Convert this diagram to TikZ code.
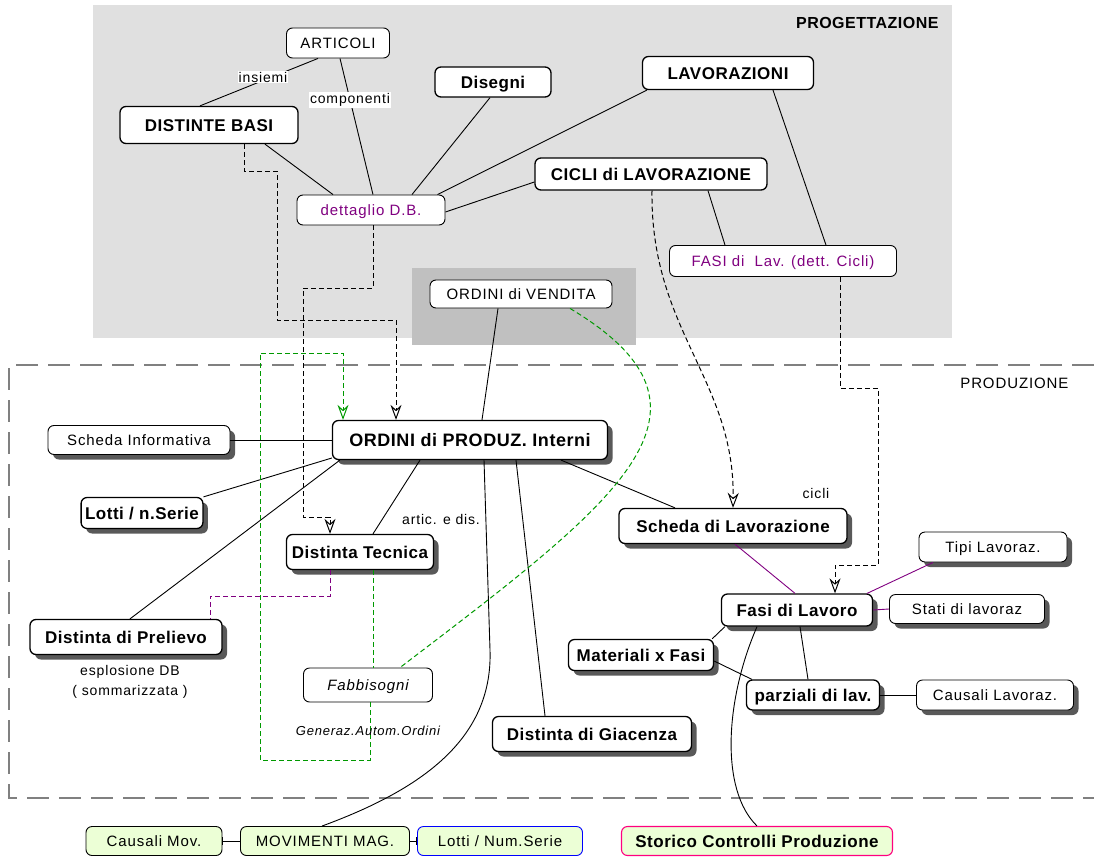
\documentclass[tikz,border=0pt]{standalone}
\usepackage{fontspec}
\setmainfont{Liberation Sans}
\newfontfamily\regfont[LetterSpace=6]{Liberation Sans}
\newfontfamily\boxfont[LetterSpace=3]{Liberation Sans}
\usepackage{tikz}
\usetikzlibrary{arrows.meta, shadows, calc, positioning}
\definecolor{progfill}{RGB}{224, 224, 224}
\definecolor{vendfill}{RGB}{192, 192, 192}
\definecolor{dbpurple}{RGB}{128, 0, 128}
\definecolor{linkgreen}{RGB}{0, 153, 0}
\definecolor{movfill}{RGB}{236, 255, 214}
\definecolor{lotblue}{RGB}{0, 0, 255}
\definecolor{storpink}{RGB}{255, 0, 128}
\definecolor{framegray}{RGB}{128, 128, 128}

\tikzset{
    box/.style={draw, rounded corners=6pt, fill=white, inner xsep=4pt, inner ysep=0pt, text depth=0pt},
    lightbox/.style={box, font=\regfont\fontsize{15}{17}\selectfont, text height=10.7pt, minimum height=30pt, line width=0.9pt},
    heavybox/.style={box, font=\boxfont\bfseries\fontsize{17}{19}\selectfont, text height=12.2pt, minimum height=34pt, line width=1.3pt},
    lifted/.style={drop shadow={shadow xshift=5pt, shadow yshift=-5pt, fill=black, opacity=0.65}},
    stockbox/.style={lightbox, fill=movfill},
    link/.style={draw, line width=0.9pt},
    dlink/.style={link, line width=1pt, dash pattern=on 5pt off 3pt},
    tip/.style={-{Stealth[open, length=15pt, width=11pt, inset=5pt, line width=1pt]}},
    edgetag/.style={font=\regfont\fontsize{14}{16}\selectfont, inner sep=1pt}
}

\begin{document}
\begin{tikzpicture}[x=1pt, y=-1pt]
    \useasboundingbox (0,0) rectangle (1094,856);
    % areas
    \fill[progfill] (93,5) rectangle (952,338);
    \fill[vendfill] (412,268) rectangle (636,345);
    \draw[framegray, line width=1.2pt, dash pattern=on 22pt off 10pt] (1094,365) -- (9,365) -- (9,798) -- (1094,798);
    \node (progtitle) [font=\boxfont\bfseries\fontsize{16}{18}\selectfont, anchor=east] at (942,23) {PROGETTAZIONE};
    \node (prodtitle) [font=\regfont\fontsize{15}{17}\selectfont, anchor=east] at (1072,383) {PRODUZIONE};

    % progettazione
    \node (arti) [lightbox, minimum width=103pt] at (338,43) {ARTICOLI};
    \node (dbasi) [heavybox, minimum width=178pt, minimum height=37pt] at (209,125) {DISTINTE BASI};
    \node (dis) [heavybox, minimum width=116pt, minimum height=30pt] at (493,82) {Disegni};
    \node (lav) [heavybox, minimum width=171pt, minimum height=33pt] at (728,73) {LAVORAZIONI};
    \node (cicli) [heavybox, minimum width=232pt, minimum height=32pt] at (651,174) {CICLI di LAVORAZIONE};
    \node (ddb) [lightbox, text=dbpurple, minimum width=148pt] at (371,210) {dettaglio D.B.};
    \node (fasil) [lightbox, text=dbpurple, minimum width=227pt, minimum height=31pt] at (783,261) {FASI di\ \ Lav. (dett. Cicli)};
    \node (ov) [lightbox, minimum width=182pt, minimum height=28pt] at (521,294) {ORDINI di VENDITA};

    % produzione
    \node (opi) [heavybox, lifted, font=\boxfont\bfseries\fontsize{18}{20}\selectfont, text height=12.9pt, minimum width=275pt, minimum height=39pt] at (470,440) {ORDINI di PRODUZ. Interni};
    \node (si) [lightbox, lifted, minimum width=182pt, minimum height=29pt] at (139,440) {Scheda Informativa};
    \node (lns) [heavybox, lifted, minimum width=120pt, minimum height=31pt] at (142,513) {Lotti / n.Serie};
    \node (dt) [heavybox, lifted, minimum width=147pt, minimum height=35pt] at (360,552) {Distinta Tecnica};
    \node (dp) [heavybox, lifted, minimum width=192pt, minimum height=35pt] at (126,637) {Distinta di Prelievo};
    \node (fab) [lightbox, font=\regfont\itshape\fontsize{15}{17}\selectfont, minimum width=129pt, minimum height=34pt] at (368,685) {Fabbisogni};
    \node (dg) [heavybox, lifted, minimum width=199pt, minimum height=35pt] at (592,734) {Distinta di Giacenza};
    \node (sl) [heavybox, lifted, minimum width=228pt, minimum height=35pt] at (733,526) {Scheda di Lavorazione};
    \node (fl) [heavybox, lifted, minimum width=151pt, minimum height=32pt] at (797,610) {Fasi di Lavoro};
    \node (tl) [lightbox, lifted, minimum width=148pt] at (993,547) {Tipi Lavoraz.};
    \node (st) [lightbox, lifted, minimum width=155pt, minimum height=29pt] at (967,609) {Stati di lavoraz};
    \node (mf) [heavybox, lifted, minimum width=145pt, minimum height=31pt] at (641,655) {Materiali x Fasi};
    \node (pl) [heavybox, lifted, minimum width=133pt, minimum height=30pt] at (813,695) {parziali di lav.};
    \node (cl) [lightbox, lifted, minimum width=157pt] at (995,695) {Causali Lavoraz.};

    % magazzino
    \node (cm) [stockbox, minimum width=136pt, minimum height=29pt] at (154,841) {Causali Mov.};
    \node (mm) [stockbox, minimum width=169pt, minimum height=29pt] at (325,841) {MOVIMENTI MAG.};
    \node (lnum) [stockbox, draw=lotblue, minimum width=165pt, minimum height=29pt] at (500,841) {Lotti / Num.Serie};
    \node (sc) [heavybox, fill=movfill, draw=storpink, line width=1.1pt, minimum width=271pt, minimum height=29pt] at (757,841) {Storico Controlli Produzione};

    % collegamenti
    \draw[link] ([xshift=-20pt]arti.south) -- ([xshift=-9pt]dbasi.north);
    \draw[link] ([xshift=2pt]arti.south) -- ([xshift=2pt]ddb.north);
    \draw[link] ([xshift=56pt]dbasi.south) -- ([xshift=-38pt]ddb.north);
    \draw[link] ([xshift=-3pt]dis.south) -- ([xshift=41pt]ddb.north);
    \draw[link] ([xshift=5pt]lav.south west) -- ([xshift=-8pt]ddb.north east);
    \draw[link] ([yshift=-8pt]cicli.west) -- ([yshift=-2pt]ddb.east);
    \draw[link] ([xshift=57pt]cicli.south) -- ([xshift=-58pt]fasil.north);
    \draw[link] ([xshift=45pt]lav.south) -- ([xshift=43pt]fasil.north);
    \draw[link] ([xshift=-23pt]ov.south) -- ([xshift=12pt]opi.north);
    \draw[link] (si.east) -- (opi.west);
    \draw[link] (lns.north east) -- ([yshift=-18pt]opi.west);
    \draw[link] ([xshift=4pt]dp.north) -- ([xshift=8pt]opi.south west);
    \draw[link] ([xshift=-50pt]opi.south) -- ([xshift=13pt]dt.north);
    \draw[link] ([xshift=14pt]opi.south) -- (490,650) .. controls (493,740) and (420,790) .. ([xshift=-3pt]mm.north);
    \draw[link] ([xshift=46pt]opi.south) -- ([xshift=-47pt]dg.north);
    \draw[link] ([xshift=-47pt]opi.south east) -- ([xshift=-58pt]sl.north);
    \draw[link, dbpurple] ([xshift=2pt]sl.south) -- ([xshift=-2pt]fl.north);
    \draw[link, dbpurple] ([xshift=-60pt]tl.south) -- ([xshift=-6pt]fl.north east);
    \draw[link, dbpurple] (st.west) -- (fl.east);
    \draw[link] ([xshift=4pt]fl.south west) -- ([xshift=-2pt]mf.north east);
    \draw[link] ([yshift=-6pt]mf.east) -- ([xshift=6pt]pl.north west);
    \draw[link] ([xshift=3pt]fl.south) -- ([xshift=-5pt]pl.north);
    \draw[link] ([xshift=-40pt]fl.south) .. controls (725,700) and (720,790) .. (sc.north);
    \draw[link] (pl.east) -- (cl.west);
    \draw[link, {Bar[width=8pt]}-] (cm.east) -- (mm.west);
    \draw[link, -{Bar[width=8pt]}] (mm.east) -- (lnum.west);

    % flussi tratteggiati
    \draw[dlink, tip] ([xshift=35pt]dbasi.south) -- ++(0,27) -| (277,320) -| ([xshift=-74pt]opi.north);
    \draw[dlink, tip] ([xshift=2pt]ddb.south) |- (303,288) |- (330,517) -- ([xshift=-30pt]dt.north);
    \draw[dlink, tip] ([xshift=1pt]cicli.south) .. controls (650,330) and (735,380) .. (sl.north);
    \draw[dlink, tip] ([xshift=57pt]fasil.south) |- (878,388) |- (835,565) -- ([xshift=38pt]fl.north);
    \draw[dlink, linkgreen, tip] ([xshift=2pt]fab.south) |- (260,760) |- (343,353) -- ([xshift=-127pt]opi.north);
    \draw[dlink, linkgreen] ([xshift=13pt]dt.south) -- ([xshift=5pt]fab.north);
    \draw[dlink, linkgreen] ([xshift=49pt]ov.south) .. controls (740,410) and (620,500) .. ([xshift=32pt]fab.north);
    \draw[dlink, dbpurple] ([xshift=-30pt]dt.south) |- (210,596) -- ([xshift=84pt]dp.north);

    % etichette
    \node (insiemi) [edgetag, fill=white] at (263,77) {insiemi};
    \node (compon) [edgetag, fill=white] at (350,100) {componenti};
    \node (articdis) [edgetag] at (441,519) {artic. e dis.};
    \node (ciclitag) [edgetag] at (816,493) {cicli};
    \node (esplos) [edgetag, align=center, font=\regfont\fontsize{14}{20}\selectfont] at (130,682) {esplosione DB\\( sommarizzata )};
    \node (generaz) [edgetag, font=\regfont\itshape\fontsize{13}{15}\selectfont] at (368,731) {Generaz.Autom.Ordini};
\end{tikzpicture}
\end{document}
